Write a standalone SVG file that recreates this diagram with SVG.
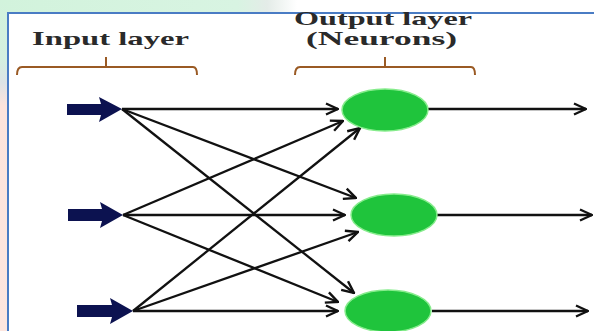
<svg xmlns="http://www.w3.org/2000/svg" width="594" height="331" viewBox="0 0 594 331">
<defs>
<linearGradient id="topbg" x1="0" y1="0" x2="1" y2="0">
<stop offset="0" stop-color="#d2f3dc"/>
<stop offset="0.4" stop-color="#d8f4e2"/>
<stop offset="0.45" stop-color="#e4ece8"/>
<stop offset="0.5" stop-color="#ffffff"/>
<stop offset="1" stop-color="#ffffff"/>
</linearGradient>
<linearGradient id="leftbg" x1="0" y1="0" x2="0" y2="1">
<stop offset="0" stop-color="#d2f3dc"/>
<stop offset="0.18" stop-color="#d4efe0"/>
<stop offset="0.25" stop-color="#dde3e6"/>
<stop offset="0.32" stop-color="#fde4dc"/>
<stop offset="1" stop-color="#fde6df"/>
</linearGradient>
<marker id="chev" viewBox="0 0 14 14" refX="13" refY="7" markerWidth="14" markerHeight="14" markerUnits="userSpaceOnUse" orient="auto">
<path d="M1,1.5 L13,7 L1,12.5" fill="none" stroke="#111" stroke-width="2.4" stroke-linejoin="miter"/>
</marker>
</defs>
<style>
.lbl{font-family:"Liberation Serif","Times New Roman",serif;font-weight:bold;font-size:19px;fill:#2a2a2a}
.br{fill:none;stroke:#9a5a24;stroke-width:2}
.con{stroke:#111;stroke-width:2.3;fill:none;marker-end:url(#chev)}
.inarrow{fill:#0c1250}
.neuron{fill:#1fc43c;stroke:#86ec8c;stroke-width:1.5}
</style>
<rect x="0" y="0" width="594" height="331" fill="#ffffff"/>
<rect x="0" y="0" width="594" height="13" fill="url(#topbg)"/>
<rect x="0" y="0" width="8" height="331" fill="url(#leftbg)"/>
<path d="M8,331 L8,13 L594,13" fill="none" stroke="#4a7cc4" stroke-width="2"/>

<g id="input-label">
<text class="lbl" x="32" y="45" textLength="157" lengthAdjust="spacingAndGlyphs">Input layer</text>
<path class="br" d="M17,75 Q17,67 22,67 L193,67 Q197,67 197,75 M106,67 L106,57"/>
</g>
<g id="output-label">
<text class="lbl" x="294" y="25" textLength="178" lengthAdjust="spacingAndGlyphs">Output layer</text>
<text class="lbl" x="306" y="45" textLength="151" lengthAdjust="spacingAndGlyphs">(Neurons)</text>
<path class="br" d="M295,75 Q295,67 300,67 L471,67 Q475,67 475,75 M385,67 L385,57"/>
</g>

<g id="input1"><polygon class="inarrow" points="67,104 101,104 99,97 122,109 99,122 101,115 67,115"/></g>
<g id="input2"><polygon class="inarrow" points="68,209 102,209 100,202 123,215 100,228 102,221 68,221"/></g>
<g id="input3"><polygon class="inarrow" points="77,305 112,305 110,298 133,311 110,324 112,317 77,317"/></g>

<g id="connectors">
<line class="con" x1="122" y1="109" x2="338" y2="109"/>
<line class="con" x1="122" y1="109" x2="356" y2="198"/>
<line class="con" x1="122" y1="109" x2="354" y2="293"/>
<line class="con" x1="123" y1="215" x2="343" y2="121"/>
<line class="con" x1="123" y1="215" x2="345" y2="215"/>
<line class="con" x1="123" y1="215" x2="338" y2="302"/>
<line class="con" x1="133" y1="311" x2="360" y2="128"/>
<line class="con" x1="133" y1="311" x2="358" y2="232"/>
<line class="con" x1="133" y1="311" x2="338" y2="311"/>
<line class="con" x1="428" y1="109" x2="586" y2="109"/>
<line class="con" x1="437" y1="215" x2="592" y2="215"/>
<line class="con" x1="432" y1="311" x2="588" y2="311"/>
</g>

<g id="neuron1"><ellipse class="neuron" cx="385" cy="110" rx="43" ry="21"/></g>
<g id="neuron2"><ellipse class="neuron" cx="394" cy="215" rx="43" ry="21"/></g>
<g id="neuron3"><ellipse class="neuron" cx="388" cy="311" rx="43" ry="21"/></g>
</svg>
